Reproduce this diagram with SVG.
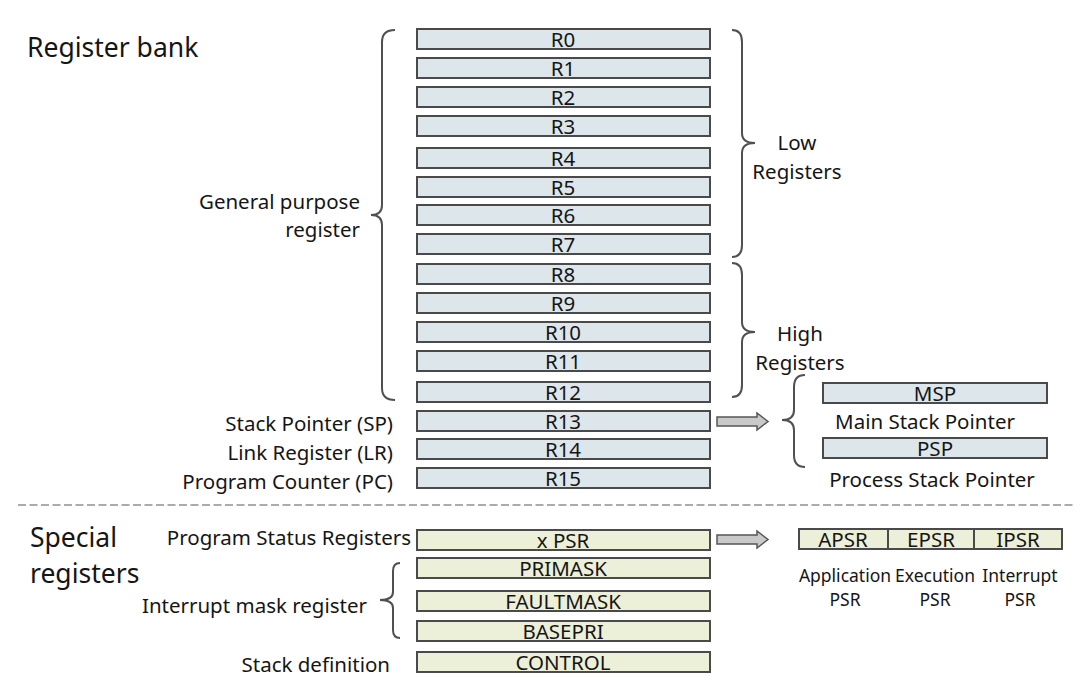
<svg xmlns="http://www.w3.org/2000/svg" width="1081" height="685" viewBox="0 0 1081 685">
<style>
text{font-family:"Noto Sans","Open Sans",sans-serif;fill:#151515}
.reg{fill:#dde6eb;stroke:#4a4a4a;stroke-width:2}
.sreg{fill:#edf0d9;stroke:#4a4a4a;stroke-width:2}
.bl{font-size:20.5px;text-anchor:middle}
.lbl{font-size:20.5px;text-anchor:end}
.lbc{font-size:20.5px;text-anchor:middle}
.h{font-size:26.5px}
.sm{font-size:17.5px;text-anchor:middle}
.brace{fill:none;stroke:#505050;stroke-width:2}
.arr{fill:#c9c9c9;stroke:#555;stroke-width:1.5}
</style>
<rect width="1081" height="685" fill="#fff"/>
<text class="h" x="27" y="57">Register bank</text>
<text class="h" x="30" y="547">Special</text>
<text class="h" x="30" y="583">registers</text>
<line x1="18" y1="505" x2="1075" y2="505" stroke="#ababab" stroke-width="2" stroke-dasharray="8,3.5"/>
<g id="labels">
<text class="lbl" x="360" y="209">General purpose</text>
<text class="lbl" x="360" y="237">register</text>
<text class="lbl" x="393" y="431">Stack Pointer (SP)</text>
<text class="lbl" x="393" y="460">Link Register (LR)</text>
<text class="lbl" x="393" y="489">Program Counter (PC)</text>
<text class="lbc" x="797" y="150">Low</text>
<text class="lbc" x="797" y="179">Registers</text>
<text class="lbc" x="800" y="341">High</text>
<text class="lbc" x="800" y="370">Registers</text>
<text class="lbc" x="925" y="429">Main Stack Pointer</text>
<text class="lbc" x="932" y="487">Process Stack Pointer</text>
<text class="lbl" x="411" y="545">Program Status Registers</text>
<text class="lbl" x="367" y="613">Interrupt mask register</text>
<text class="lbl" x="390" y="672">Stack definition</text>
<text class="sm" x="845" y="582">Application</text>
<text class="sm" x="845" y="606">PSR</text>
<text class="sm" x="935" y="582">Execution</text>
<text class="sm" x="935" y="606">PSR</text>
<text class="sm" x="1020" y="582">Interrupt</text>
<text class="sm" x="1020" y="606">PSR</text>
</g>
<g id="braces">
<path class="brace" d="M395,30 Q382,30 382,42 L382,205 Q382,215 371,215 Q382,215 382,225 L382,388 Q382,400 395,400"/>
<path class="brace" d="M732,30 Q742,30 742,42 L742,133 Q742,143 755,143 Q742,143 742,153 L742,245 Q742,257 732,257"/>
<path class="brace" d="M732,263 Q742,263 742,275 L742,322 Q742,332 755,332 Q742,332 742,342 L742,385 Q742,397 732,397"/>
<path class="brace" d="M805,375 Q794,375 794,387 L794,410 Q794,420 782,420 Q794,420 794,430 L794,455 Q794,467 805,467"/>
<path class="brace" d="M400,563 Q393,563 393,571 L393,592 Q393,600 380,600 Q393,600 393,608 L393,630 Q393,638 400,638"/>
</g>
<g id="r0"><rect class="reg" x="417" y="29" width="293" height="20"/><text class="bl" x="563" y="46.5">R0</text></g>
<g id="r1"><rect class="reg" x="417" y="58" width="293" height="20"/><text class="bl" x="563" y="75.5">R1</text></g>
<g id="r2"><rect class="reg" x="417" y="87" width="293" height="20"/><text class="bl" x="563" y="104.5">R2</text></g>
<g id="r3"><rect class="reg" x="417" y="116" width="293" height="20"/><text class="bl" x="563" y="133.5">R3</text></g>
<g id="r4"><rect class="reg" x="417" y="148" width="293" height="20"/><text class="bl" x="563" y="165.5">R4</text></g>
<g id="r5"><rect class="reg" x="417" y="177" width="293" height="20"/><text class="bl" x="563" y="194.5">R5</text></g>
<g id="r6"><rect class="reg" x="417" y="205" width="293" height="20"/><text class="bl" x="563" y="222.5">R6</text></g>
<g id="r7"><rect class="reg" x="417" y="234" width="293" height="20"/><text class="bl" x="563" y="251.5">R7</text></g>
<g id="r8"><rect class="reg" x="417" y="264" width="293" height="20"/><text class="bl" x="563" y="281.5">R8</text></g>
<g id="r9"><rect class="reg" x="417" y="293" width="293" height="20"/><text class="bl" x="563" y="310.5">R9</text></g>
<g id="r10"><rect class="reg" x="417" y="322" width="293" height="20"/><text class="bl" x="563" y="339.5">R10</text></g>
<g id="r11"><rect class="reg" x="417" y="351" width="293" height="20"/><text class="bl" x="563" y="368.5">R11</text></g>
<g id="r12"><rect class="reg" x="417" y="382" width="293" height="20"/><text class="bl" x="563" y="399.5">R12</text></g>
<g id="r13"><rect class="reg" x="417" y="411" width="293" height="20"/><text class="bl" x="563" y="428.5">R13</text></g>
<g id="r14"><rect class="reg" x="417" y="439" width="293" height="20"/><text class="bl" x="563" y="456.5">R14</text></g>
<g id="r15"><rect class="reg" x="417" y="468" width="293" height="20"/><text class="bl" x="563" y="485.5">R15</text></g>
<g id="msp"><rect class="reg" x="823" y="383" width="224" height="20"/><text class="bl" x="935" y="400.5">MSP</text></g>
<g id="psp"><rect class="reg" x="823" y="438" width="224" height="20"/><text class="bl" x="935" y="455.5">PSP</text></g>
<g id="xpsr"><rect class="sreg" x="417" y="530" width="293" height="20"/><text class="bl" x="563" y="547.5">x PSR</text></g>
<g id="primask"><rect class="sreg" x="417" y="558" width="293" height="20"/><text class="bl" x="563" y="575.5">PRIMASK</text></g>
<g id="faultmask"><rect class="sreg" x="417" y="591" width="293" height="20"/><text class="bl" x="563" y="608.5">FAULTMASK</text></g>
<g id="basepri"><rect class="sreg" x="417" y="621" width="293" height="20"/><text class="bl" x="563" y="638.5">BASEPRI</text></g>
<g id="control"><rect class="sreg" x="417" y="652" width="293" height="20"/><text class="bl" x="563" y="669.5">CONTROL</text></g>
<g id="psrbits">
<rect class="sreg" x="799" y="529" width="263" height="20"/>
<line x1="888" y1="529" x2="888" y2="549" stroke="#4a4a4a" stroke-width="2"/>
<line x1="974" y1="529" x2="974" y2="549" stroke="#4a4a4a" stroke-width="2"/>
<text class="bl" x="843" y="546.5">APSR</text>
<text class="bl" x="931" y="546.5">EPSR</text>
<text class="bl" x="1018" y="546.5">IPSR</text>
</g>
<g id="connectors">
<polygon class="arr" points="717,417 757,417 757,413 768,421.5 757,430 757,426 717,426"/>
<polygon class="arr" points="717,535 757,535 757,531 768,539.5 757,548 757,544 717,544"/>
</g>
</svg>
